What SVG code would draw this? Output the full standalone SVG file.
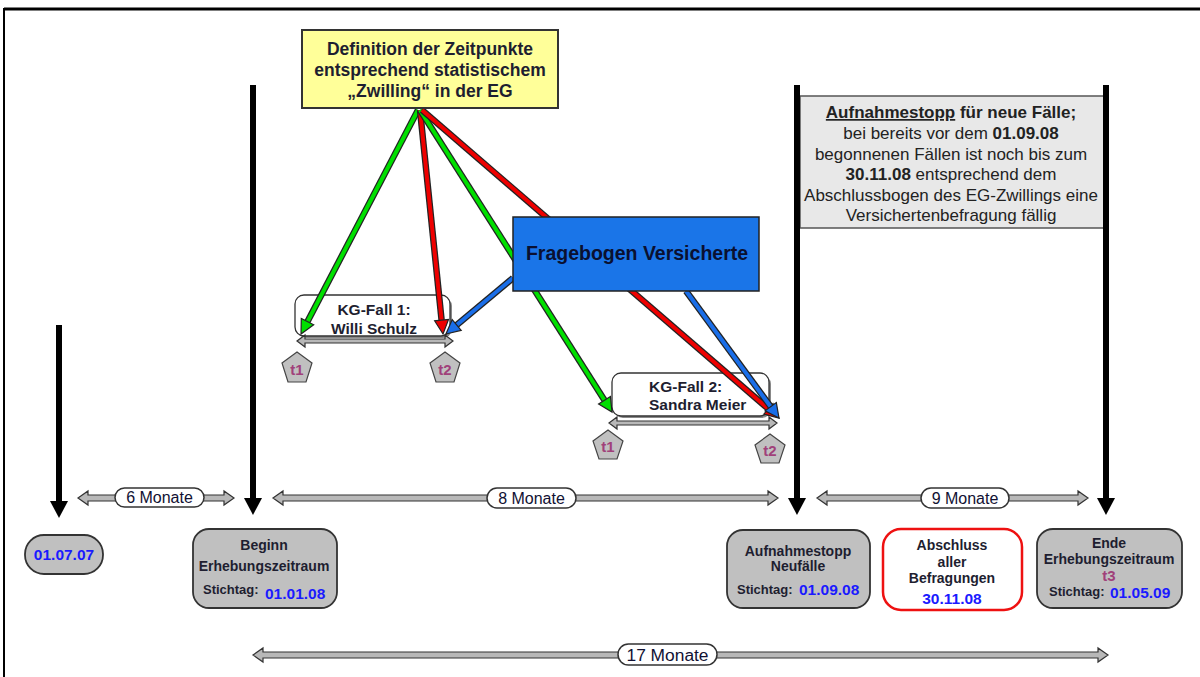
<svg xmlns="http://www.w3.org/2000/svg" width="1200" height="677" viewBox="0 0 1200 677">
<defs>
<style>
text{font-family:"Liberation Sans",Arial,sans-serif}
.lbl{font-weight:bold;fill:#1e1e30;font-size:14px;text-anchor:middle}
.lbs{font-weight:bold;fill:#1e1e30;font-size:13px;text-anchor:start}
.date{font-weight:bold;fill:#1a1aff;font-size:15.5px}
.tt{font-weight:bold;fill:#a0407a;font-size:15px;text-anchor:middle}
.box{fill:#c0c0c0;stroke:#333;stroke-width:1.8}
.dbl{fill:#b8b8b8;stroke:#333;stroke-width:1.2}
.pill{fill:#fff;stroke:#333;stroke-width:1.5}
.mon{font-size:16px;fill:#111133;text-anchor:middle}
.pent{fill:#c0c0c0;stroke:#444;stroke-width:1.2}
.blk{stroke:#000;stroke-width:6}
.out{stroke:#222;stroke-width:6.5;fill:none}
.inf{font-size:17px;fill:#222;text-anchor:middle}
</style>
<marker id="mg" markerUnits="userSpaceOnUse" markerWidth="16" markerHeight="16" refX="0" refY="7" orient="auto" overflow="visible"><path d="M0,0 L14,7 L0,14 Z" fill="#00e000" stroke="#222" stroke-width="1.2"/></marker>
<marker id="mr" markerUnits="userSpaceOnUse" markerWidth="16" markerHeight="16" refX="0" refY="7" orient="auto" overflow="visible"><path d="M0,0 L14,7 L0,14 Z" fill="#ee0000" stroke="#222" stroke-width="1.2"/></marker>
<marker id="mb" markerUnits="userSpaceOnUse" markerWidth="16" markerHeight="16" refX="0" refY="7" orient="auto" overflow="visible"><path d="M0,0 L14,7 L0,14 Z" fill="#1a6ee8" stroke="#222" stroke-width="1.2"/></marker>
</defs>
<rect x="0" y="0" width="1200" height="677" fill="#fff"/>
<path d="M4,677 V9 H1200" fill="none" stroke="#000" stroke-width="2"/>
<line x1="4" y1="9" x2="1200" y2="9" stroke="#000" stroke-width="3"/>

<!-- Aufnahmestopp info box -->
<g id="info">
<rect x="800" y="96" width="304" height="132" fill="#e8e8e8" stroke="#555" stroke-width="1.5"/>
<text class="inf" x="951" y="118"><tspan font-weight="bold" text-decoration="underline">Aufnahmestopp</tspan><tspan font-weight="bold"> für neue Fälle;</tspan></text>
<text class="inf" x="951" y="139">bei bereits vor dem <tspan font-weight="bold">01.09.08</tspan></text>
<text class="inf" x="951" y="159.5">begonnenen Fällen ist noch bis zum</text>
<text class="inf" x="951" y="180"><tspan font-weight="bold">30.11.08</tspan> entsprechend dem</text>
<text class="inf" x="951" y="200.5">Abschlussbogen des EG-Zwillings eine</text>
<text class="inf" x="951" y="221">Versichertenbefragung fällig</text>
</g>

<!-- timeline markers -->
<g id="timeline">
<line class="blk" x1="59" y1="325" x2="59" y2="502"/><polygon points="50,501 68,501 59,518"/>
<line class="blk" x1="253" y1="85" x2="253" y2="499"/><polygon points="244,498 262,498 253,515"/>
<line class="blk" x1="797" y1="85" x2="797" y2="499"/><polygon points="788,498 806,498 797,515"/>
<line class="blk" x1="1106" y1="85" x2="1106" y2="499"/><polygon points="1097,498 1115,498 1106,515"/>
</g>

<!-- KG cases -->
<g id="kg1">
<rect x="297" y="297" width="155" height="41" rx="9" fill="#888"/>
<rect x="295" y="295" width="155" height="41" rx="9" fill="#fff" stroke="#333" stroke-width="1.3"/>
<text x="374" y="315" font-size="15.5" font-weight="bold" fill="#1e1e30" text-anchor="middle">KG-Fall 1:</text>
<text x="374" y="334" font-size="15.5" font-weight="bold" fill="#1e1e30" text-anchor="middle">Willi Schulz</text>
<path class="dbl" d="M297,341 L305,335 L305,339 L445,339 L445,335 L453,341 L445,347 L445,343 L305,343 L305,347 Z"/>
</g>
<g id="kg1t1"><polygon class="pent" points="297,352 312,363 306,382 288,382 282,363"/><text class="tt" x="297" y="375">t1</text></g>
<g id="kg1t2"><polygon class="pent" points="445,352 460,363 454,382 436,382 430,363"/><text class="tt" x="445" y="375">t2</text></g>

<g id="kg2">
<rect x="614" y="375" width="157" height="43" rx="9" fill="#888"/>
<rect x="612" y="373" width="157" height="43" rx="9" fill="#fff" stroke="#333" stroke-width="1.3"/>
<text x="649" y="392" font-size="15.5" font-weight="bold" fill="#1e1e30">KG-Fall 2:</text>
<text x="649" y="410" font-size="15.5" font-weight="bold" fill="#1e1e30">Sandra Meier</text>
<path class="dbl" d="M609,423 L617,417 L617,421 L769,421 L769,417 L777,423 L769,429 L769,425 L617,425 L617,429 Z"/>
</g>
<g id="kg2t1"><polygon class="pent" points="608,430 623,441 617,459 599,459 593,441"/><text class="tt" x="608" y="452">t1</text></g>
<g id="kg2t2"><polygon class="pent" points="770,434 785,445 779,463 761,463 755,445"/><text class="tt" x="770" y="456">t2</text></g>

<!-- connectors -->
<g id="connectors">
<line class="out" x1="418" y1="110" x2="307.5" y2="321.6"/>
<line x1="418" y1="110" x2="307.5" y2="321.6" stroke="#00e000" stroke-width="4" marker-end="url(#mg)"/>
<line class="out" x1="420" y1="110" x2="441.6" y2="320.1"/>
<line x1="420" y1="110" x2="441.6" y2="320.1" stroke="#ee0000" stroke-width="4" marker-end="url(#mr)"/>
<line class="out" x1="420" y1="110" x2="604.5" y2="400.2"/>
<line x1="420" y1="110" x2="604.5" y2="400.2" stroke="#00e000" stroke-width="4" marker-end="url(#mg)"/>
<line class="out" x1="422" y1="110" x2="768.4" y2="408.9"/>
<line x1="422" y1="110" x2="768.4" y2="408.9" stroke="#ee0000" stroke-width="4" marker-end="url(#mr)"/>
<line class="out" x1="513" y1="278" x2="456.7" y2="325"/>
<line x1="513" y1="278" x2="456.7" y2="325" stroke="#1a6ee8" stroke-width="4" marker-end="url(#mb)"/>
<line class="out" x1="686" y1="291" x2="770.7" y2="406.7"/>
<line x1="686" y1="291" x2="770.7" y2="406.7" stroke="#1a6ee8" stroke-width="4" marker-end="url(#mb)"/>
</g>

<g id="fragebogen">
<rect x="513" y="217" width="246" height="74" fill="#1a75e8" stroke="#222" stroke-width="1.5"/>
<text x="637" y="260" font-size="19.5" font-weight="bold" fill="#0a1030" text-anchor="middle">Fragebogen Versicherte</text>
</g>

<g id="definition">
<rect x="302" y="30" width="256" height="78" fill="#ffff99" stroke="#333" stroke-width="2"/>
<text x="430" y="55" font-size="17.5" font-weight="bold" fill="#1e1e30" text-anchor="middle">Definition der Zeitpunkte</text>
<text x="430" y="76" font-size="17.5" font-weight="bold" fill="#1e1e30" text-anchor="middle">entsprechend statistischem</text>
<text x="430" y="97" font-size="17.5" font-weight="bold" fill="#1e1e30" text-anchor="middle">„Zwilling“ in der EG</text>
</g>

<!-- durations -->
<g id="m6">
<path class="dbl" d="M78,498 L88,491 L88,495 L224,495 L224,491 L234,498 L224,505 L224,501 L88,501 L88,505 Z"/>
<rect class="pill" x="115" y="488" width="89" height="19" rx="9.5"/>
<text class="mon" x="159.5" y="503">6 Monate</text>
</g>
<g id="m8">
<path class="dbl" d="M273,498 L283,491 L283,495 L768,495 L768,491 L778,498 L768,505 L768,501 L283,501 L283,505 Z"/>
<rect class="pill" x="487" y="488" width="89" height="20" rx="10"/>
<text class="mon" x="531.5" y="503.5">8 Monate</text>
</g>
<g id="m9">
<path class="dbl" d="M817,498 L827,491 L827,495 L1078,495 L1078,491 L1088,498 L1078,505 L1078,501 L827,501 L827,505 Z"/>
<rect class="pill" x="921" y="488" width="88" height="20" rx="10"/>
<text class="mon" x="965" y="503.5">9 Monate</text>
</g>
<g id="m17">
<path class="dbl" d="M253,655 L263,648 L263,652 L1098,652 L1098,648 L1108,655 L1098,662 L1098,658 L263,658 L263,662 Z"/>
<rect class="pill" x="618" y="644" width="99" height="21" rx="10.5"/>
<text class="mon" x="667.5" y="660.5" textLength="82" lengthAdjust="spacingAndGlyphs">17 Monate</text>
</g>

<!-- bottom boxes -->
<g id="d010707">
<rect class="box" x="25" y="535" width="78" height="39" rx="19"/>
<text class="date" x="64" y="560" text-anchor="middle">01.07.07</text>
</g>
<g id="beginn">
<rect class="box" x="193" y="529" width="144" height="79" rx="16"/>
<text class="lbl" x="264" y="550">Beginn</text>
<text class="lbl" x="264" y="571">Erhebungszeitraum</text>
<text class="lbs" x="203" y="594">Stichtag:</text>
<text class="date" x="265" y="599">01.01.08</text>
</g>
<g id="aufnahmestopp">
<rect class="box" x="727" y="530" width="143" height="78" rx="16"/>
<text class="lbl" x="798" y="556">Aufnahmestopp</text>
<text class="lbl" x="798" y="571">Neufälle</text>
<text class="lbs" x="737" y="594">Stichtag:</text>
<text class="date" x="799" y="595">01.09.08</text>
</g>
<g id="abschluss">
<rect x="883" y="529" width="139" height="81" rx="18" fill="#fff" stroke="#ee1111" stroke-width="2.5"/>
<text class="lbl" x="952" y="550">Abschluss</text>
<text class="lbl" x="952" y="567">aller</text>
<text class="lbl" x="952" y="583">Befragungen</text>
<text class="date" x="952" y="604" text-anchor="middle">30.11.08</text>
</g>
<g id="ende">
<rect class="box" x="1037" y="529" width="145" height="79" rx="16"/>
<text class="lbl" x="1109" y="548">Ende</text>
<text class="lbl" x="1109" y="564">Erhebungszeitraum</text>
<text class="tt" x="1109" y="581">t3</text>
<text class="lbs" x="1049" y="596">Stichtag:</text>
<text class="date" x="1110" y="598">01.05.09</text>
</g>
</svg>
